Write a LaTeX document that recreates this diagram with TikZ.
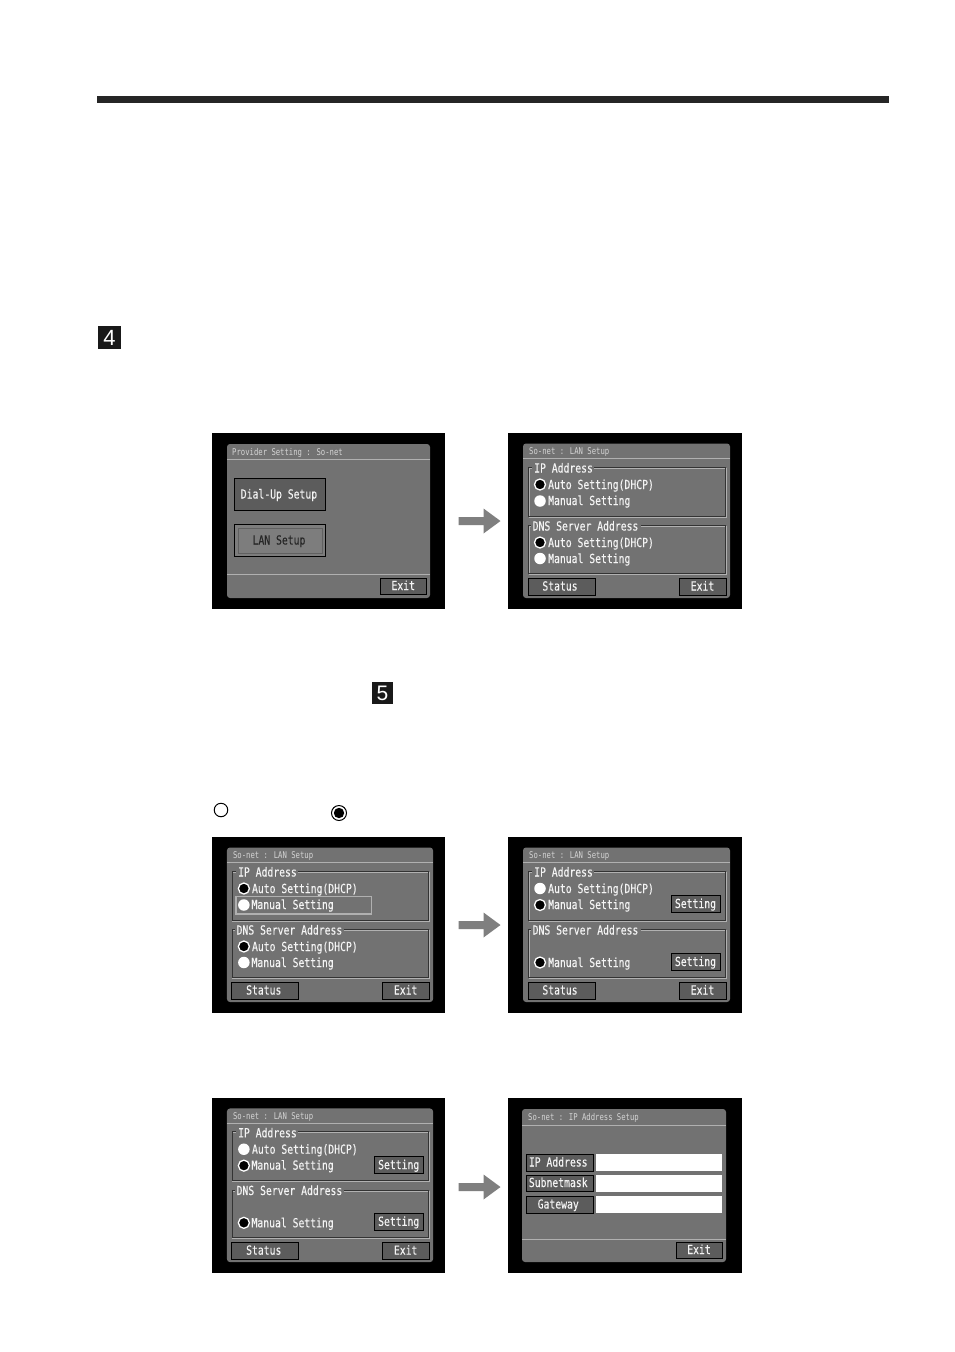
\documentclass[tikz,border=0pt]{standalone}
\usepackage{fontspec}
\setmainfont{Liberation Sans}
\newfontfamily\lcd[FakeStretch=0.78,FakeBold=0.25]{DejaVu Sans Mono}
\newfontfamily\lcdt[FakeStretch=0.78]{DejaVu Sans Mono}
\definecolor{panelc}{HTML}{727272}
\definecolor{btnc}{HTML}{5C5C5C}
\definecolor{arrowc}{HTML}{7F7F7F}
\definecolor{titlec}{HTML}{D4D4D4}
\definecolor{linec}{HTML}{B0B0B0}
\definecolor{txtc}{HTML}{F4F4F4}
\tikzset{
  screenbg/.style={fill=black,draw=none},
  panel/.style={fill=panelc,draw=none,rounded corners=3pt},
  sep/.style={draw=linec,line width=0.7pt},
  grpdark/.style={draw=black!80,line width=0.7pt},
  grplight/.style={draw=panelc!55!white,line width=0.4pt},
  btn/.style={fill=btnc,draw=black,line width=1pt,inner sep=0pt},
  lcdtxt/.style={font=\lcd\fontsize{12.5}{13}\selectfont,text=txtc,inner sep=0pt,anchor=base west},
  btntxt/.style={font=\lcd\fontsize{12.5}{13}\selectfont,text=txtc,inner sep=0pt,anchor=base},
  titletxt/.style={font=\lcdt\fontsize{9.3}{10}\selectfont,text=titlec,inner sep=0pt,anchor=base west},
  radioon/.style={circle,fill=black,draw=white,line width=1.3pt,minimum size=11pt,inner sep=0pt},
  radiooff/.style={circle,fill=white,draw=none,minimum size=11.5pt,inner sep=0pt},
  numbox/.style={text=white,font=\fontsize{22}{22}\selectfont,inner sep=0pt,anchor=center},
  blockarrow/.style={fill=arrowc,draw=none},
  leftscreen/.style={shift={(-293.8,#1)},xscale=0.9957},
}
\newcommand{\blockarr}[2]{\fill[blockarrow] (#1,#2-4) -- (#1+25,#2-4) -- (#1+25,#2-12.5) -- (#1+42,#2) -- (#1+25,#2+12.5) -- (#1+25,#2+4) -- (#1,#2+4) -- cycle;}
\newcommand{\uibutton}[7][0]{% [text shift] name x1 y1 x2 y2 text
  \draw[btn] (#3,#4) rectangle (#5,#6);
  \node[btntxt] (#2) at ({(#3+#5)/2+#1},#6-4.5) {#7};}
\newcommand{\grpbox}[4]{%
  \draw[grplight] (#1+.7,#2+.7) rectangle (#3+.7,#4+.7);
  \draw[grpdark] (#1,#2) rectangle (#3,#4);}
\newcommand{\lanframe}{%
  \fill[screenbg] (508,433) rectangle (742,609);
  \fill[panel] (523,443.5) rectangle (730,598);
  \draw[sep] (523,458) -- (730,458);
  \node[titletxt] (t) at (529,454.5) {So-net : LAN Setup};
  \grpbox{528}{467}{725}{516}
  \grpbox{528}{525.5}{725}{573}
  \fill[panelc] (532,460) rectangle (594,474);
  \fill[panelc] (531,519) rectangle (641,532);
  \node[lcdtxt] (ip) at (534,472.5) {IP Address};
  \node[lcdtxt] (dns) at (532.5,530.5) {DNS Server Address};
  \uibutton[-1.5]{st}{528}{578}{595}{595}{Status}
  \uibutton{ex}{679}{578}{726}{595}{Exit}
}
\begin{document}
\begin{tikzpicture}[x=1pt,y=-1pt]
\useasboundingbox (0,0) rectangle (954,1352);
\fill[white] (0,0) rectangle (954,1352);
\fill[black!85] (97,96) rectangle (889,103);
\fill[black!90] (98,326) rectangle (121,349);
\node[numbox] (n4) at (109.5,337.5) {4};
\fill[black!90] (372,682) rectangle (393,704);
\node[numbox,font=\fontsize{21}{21}\selectfont] (n5) at (382.5,693) {5};
\node[circle,draw=black,fill=white,line width=1pt,minimum size=13.5pt,inner sep=0pt] (leg1) at (221,810) {};
\node[circle,draw=black,fill=white,line width=1pt,minimum size=15pt,inner sep=0pt] (leg2) at (339,813) {};
\fill[black] (leg2.center) circle (5.2);

% Screen 1
\fill[screenbg] (212,433) rectangle (445,609);
\fill[panel] (227,444) rectangle (430,598);
\draw[sep] (227,459) -- (430,459);
\draw[sep] (227,574) -- (430,574);
\node[titletxt] (a0) at (232,455.5) {Provider Setting : So-net};
\draw[btn] (234.5,478.5) rectangle (325.5,510.5);
\node[btntxt] (a1) at (279,498.5) {Dial-Up Setup};
\draw[btn,fill=panelc!92!white] (234.5,524.5) rectangle (325.5,556.5);
\draw[draw=panelc!85!black,line width=1pt] (238,528) rectangle (322,553);
\node[btntxt,text=black!85] (a2) at (279,544.5) {LAN Setup};
\uibutton{a3}{380.5}{578.5}{426}{594.5}{Exit}
\blockarr{458.5}{521}

% Screen 2
\lanframe
\node[radioon] (b1) at (540,484.5) {};
\node[radiooff] (b2) at (540,501) {};
\node[radioon] (b3) at (540,542.5) {};
\node[radiooff] (b4) at (540,558.5) {};
\node[lcdtxt] at (548,489) {Auto Setting(DHCP)};
\node[lcdtxt] at (548,505) {Manual Setting};
\node[lcdtxt] at (548,547) {Auto Setting(DHCP)};
\node[lcdtxt] at (548,563) {Manual Setting};

% Screen 3
\begin{scope}[leftscreen=404]
\lanframe
\node[radioon] at (540,484.5) {};
\node[radiooff] at (540,501) {};
\node[radioon] at (540,542.5) {};
\node[radiooff] at (540,558.5) {};
\draw[draw=linec,line width=1.2pt] (532,492.5) rectangle (668.5,510);
\node[lcdtxt] at (548,489) {Auto Setting(DHCP)};
\node[lcdtxt] at (547.5,505) {Manual Setting};
\node[lcdtxt] at (548,547) {Auto Setting(DHCP)};
\node[lcdtxt] at (547.5,563) {Manual Setting};
\end{scope}
\blockarr{458.5}{925}

% Screen 4
\begin{scope}[shift={(0,404)}]
\lanframe
\node[radiooff] at (540,484.5) {};
\node[radioon] at (540,501) {};
\node[radioon] at (540,558.5) {};
\node[lcdtxt] at (548,489) {Auto Setting(DHCP)};
\node[lcdtxt] at (548,505) {Manual Setting};
\node[lcdtxt] at (548,563) {Manual Setting};
\uibutton{s1}{671}{491.5}{720}{508.5}{Setting}
\uibutton{s2}{671}{549.5}{720}{566.5}{Setting}
\end{scope}

% Screen 5
\begin{scope}[leftscreen=667.5,yscale=0.9943]
\lanframe
\node[radiooff] at (540,484.5) {};
\node[radioon] at (540,501) {};
\node[radioon] at (540,558.5) {};
\node[lcdtxt] at (548,489) {Auto Setting(DHCP)};
\node[lcdtxt] at (547.5,505) {Manual Setting};
\node[lcdtxt] at (547.5,563) {Manual Setting};
\uibutton{s3}{671}{492}{720}{509}{Setting}
\uibutton{s4}{671}{549}{720}{566}{Setting}
\end{scope}
\blockarr{458.5}{1187}

% Screen 6
\fill[screenbg] (508,1098) rectangle (742,1273);
\fill[panel] (522,1109) rectangle (726,1262);
\draw[sep] (522,1125) -- (726,1125);
\draw[sep] (522,1239) -- (726,1239);
\node[titletxt] (f0) at (528,1120.5) {So-net : IP Address Setup};
\uibutton[-1.5]{f1}{526.5}{1154.5}{593}{1171}{IP Address}
\uibutton[-1.5]{f2}{526.5}{1175.5}{593}{1191.5}{Subnetmask}
\uibutton[-1.5]{f3}{526.5}{1196.5}{593}{1213}{Gateway}
\fill[white] (595.5,1154) rectangle (722,1171);
\fill[white] (595.5,1175) rectangle (722,1191.5);
\fill[white] (595.5,1196) rectangle (722,1212.5);
\uibutton{f4}{676}{1242}{722}{1258.5}{Exit}
\end{tikzpicture}
\end{document}
